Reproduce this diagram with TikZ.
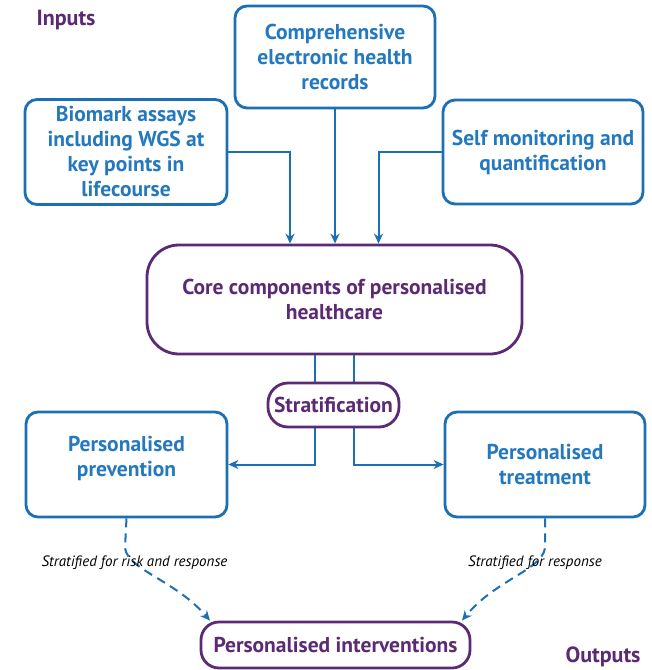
\documentclass[tikz,border=0pt]{standalone}
\usepackage{fontspec}
\setmainfont{PT Sans}
\usetikzlibrary{arrows.meta}
\definecolor{myblue}{HTML}{1B6FB4}
\definecolor{mytextblue}{HTML}{2378BE}
\definecolor{mypurple}{HTML}{5C2A74}
\tikzset{
  bbox/.style={draw=myblue, line width=2.8pt, rounded corners=12pt, text=mytextblue,
    font=\bfseries\fontsize{21.5}{25}\selectfont, align=center, inner sep=0pt},
  pbox/.style={draw=mypurple, line width=2.8pt, text=mypurple, fill=white,
    font=\bfseries\fontsize{21.5}{25}\selectfont, align=center, inner sep=0pt},
  conn/.style={draw=myblue, line width=2pt, -{Stealth[length=10pt,width=9pt]}},
  dconn/.style={draw=myblue, line width=2pt, dash pattern=on 9pt off 6pt, -{Stealth[length=10pt,width=9pt]}},
  tag/.style={text=mypurple, font=\bfseries\fontsize{22}{24}\selectfont, inner sep=0pt},
  note/.style={font=\itshape\fontsize{15}{16}\selectfont, text=black, inner sep=0pt}
}
\begin{document}
\begin{tikzpicture}[x=1pt,y=-1pt]
\useasboundingbox (0,0) rectangle (652,670);
\node[tag] (inputs) at (66,20) {Inputs};
\node[tag] (outputs) at (603,657) {Outputs};

\node[bbox, minimum width=200pt, minimum height=102pt] (ehr) at (335,57)
  {Comprehensive\\electronic health\\records};
\node[bbox, minimum width=202pt, minimum height=105pt] (bio) at (126,152)
  {Biomark assays\\including WGS at\\key points in\\lifecourse};
\node[bbox, minimum width=200pt, minimum height=104pt] (self) at (543,152)
  {Self monitoring and\\quantification};

\node[pbox, rounded corners=32pt, minimum width=375pt, minimum height=109pt] (core) at (334.5,299.5)
  {Core components of personalised\\healthcare};

\draw[conn] (bio.east) -| ([xshift=-44.5pt]core.north);
\draw[conn] (ehr.south) -- (ehr.south |- core.north);
\draw[conn] (self.west) -| ([xshift=44pt]core.north);

\node[bbox, minimum width=201pt, minimum height=105pt] (prev) at (126.5,464.5)
  {Personalised\\prevention\\[-8pt]\mbox{}};
\node[bbox, minimum width=200pt, minimum height=105pt] (treat) at (545,464.5)
  {Personalised\\treatment};

\draw[conn] ([xshift=-19.5pt]core.south) |- (prev.east);
\draw[conn] ([xshift=19.5pt]core.south) |- (treat.west);

\node[pbox, rounded corners=20pt, minimum width=131pt, minimum height=44pt] (strat) at (333.5,405)
  {Stratification};

\node[pbox, rounded corners=18pt, minimum width=269pt, minimum height=46pt] (inter) at (335.5,645)
  {Personalised interventions};

\coordinate (dl) at (125,548);
\coordinate (dr) at (545,548);
\draw[dconn] (prev.south) -- (dl) .. controls (128,570) and (175,580) .. ([xshift=-125.5pt]inter.north);
\draw[dconn] (treat.south) -- (dr) .. controls (542,570) and (495,580) .. ([xshift=126.5pt]inter.north);

\node[note] (nl) at (134.5,563) {Stratified for risk and response};
\node[note] (nr) at (535,563) {Stratified for response};
\end{tikzpicture}
\end{document}
